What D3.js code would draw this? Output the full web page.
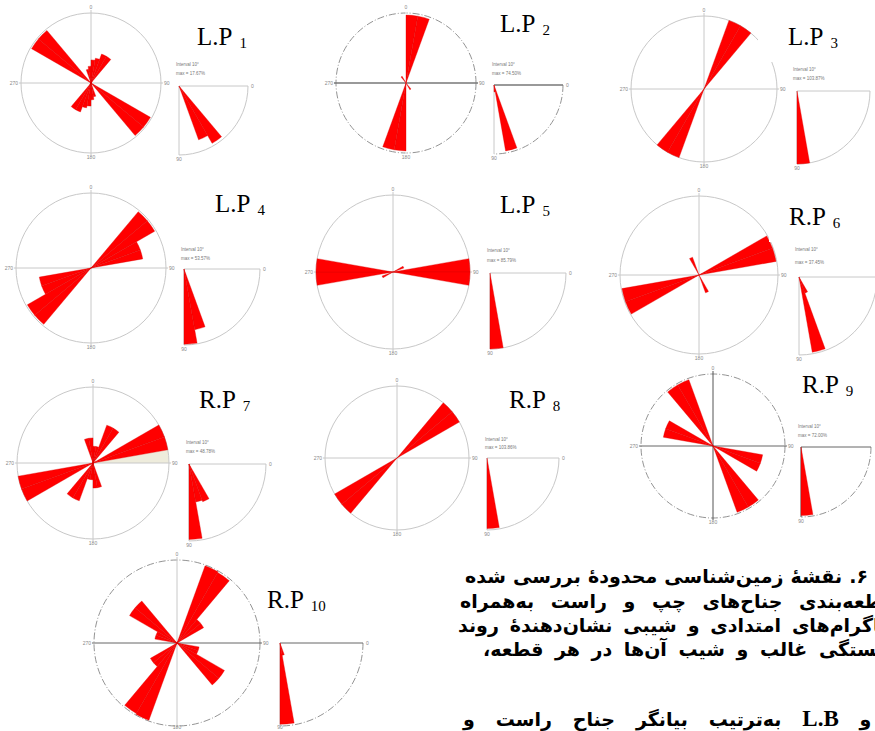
<!DOCTYPE html>
<html>
<head>
<meta charset="utf-8">
<script src="https://cdn.jsdelivr.net/npm/d3@7"></script>
<style>
  body { margin: 0; background: #fff; width: 875px; height: 731px; overflow: hidden; position: relative; }
  .fa { position: absolute; direction: rtl; font-family: "DejaVu Sans"; font-weight: bold; font-size: 19px;
        white-space: nowrap; text-align: justify; text-align-last: justify; color: #000; line-height: normal; }
  .fa .lat { font-family: "Liberation Serif"; font-weight: bold; font-size: 23px; }
</style>
</head>
<body>
<div id="chart"></div>
<script>
// Panel names and numbers
var panelPrefix = ["L.P", "L.P", "L.P", "L.P", "L.P", "R.P", "R.P", "R.P", "R.P", "R.P"];
var panelNumber = ["1", "2", "3", "4", "5", "6", "7", "8", "9", "10"];
var maxText = ["17.67%", "74.50%", "103.87%", "53.57%", "85.79%", "37.45%", "48.78%", "103.86%", "72.00%", ""];

// Strike bins: [start azimuth (deg), length as share of max]; each is drawn both ways (+180)
var lp1Strike = [[0, 0.33], [10, 0.36], [20, 0.44], [30, 0.44], [120, 0.98], [130, 0.98], [160, 0.2], [170, 0.24]];
var lp2Strike = [[0, 0.97], [10, 0.97], [140, 0.11]];
var lp3Strike = [[20, 1.0], [30, 1.0]];
var lp4Strike = [[40, 0.98], [50, 0.98], [60, 0.7], [70, 0.7]];
var lp5Strike = [[60, 0.15], [80, 1.0], [90, 1.0]];
var rp6Strike = [[60, 0.99], [70, 0.99], [150, 0.24]];
var rp7Strike = [[0, 0.22], [10, 0.22], [20, 0.53], [30, 0.53], [60, 1.0], [70, 1.0], [160, 0.33], [170, 0.33]];
var rp8Strike = [[40, 1.0], [50, 1.0]];
var rp9Strike = [[100, 0.7], [110, 0.7], [140, 0.98], [150, 0.98]];
var rp10Strike = [[20, 0.99], [30, 0.98], [40, 0.37], [50, 0.37], [100, 0.27], [110, 0.27], [120, 0.66], [130, 0.66]];
// one-sided shaded bin in R.P 7
var rp7Shade = [[80, 1.0]];

// Dip bins: [start dip (deg), length as share of max]
var lp1Dip = [[50, 0.96], [60, 0.83]];
var lp2Dip = [[70, 0.97], [80, 0.1]];
var lp3Dip = [[80, 1.0]];
var lp4Dip = [[70, 0.81], [80, 0.99]];
var lp5Dip = [[80, 1.0]];
var rp6Dip = [[60, 0.22], [70, 0.98]];
var rp7Dip = [[60, 0.52], [70, 0.5], [80, 0.98]];
var rp8Dip = [[80, 0.98]];
var rp9Dip = [[80, 0.98]];
var rp10Dip = [[70, 0.15], [80, 0.98]];

var strikeData = [lp1Strike, lp2Strike, lp3Strike, lp4Strike, lp5Strike, rp6Strike, rp7Strike, rp8Strike, rp9Strike, rp10Strike];
var dipData = [lp1Dip, lp2Dip, lp3Dip, lp4Dip, lp5Dip, rp6Dip, rp7Dip, rp8Dip, rp9Dip, rp10Dip];

var faLines = [
    "شکل ۶. نقشهٔ زمین‌شناسی محدودهٔ بررسی شده",
    "و قطعه‌بندی جناح‌های چپ و راست به‌همراه",
    "دیاگرام‌های امتدادی و شیبی نشان‌دهندهٔ روند",
    "شکستگی غالب و شیب آن‌ها در هر قطعه،",
    "R.B و L.B به‌ترتیب بیانگر جناح راست و"
];

// layout of each panel (rose centre/radius, dip origin/radius, label and note positions)
var layout = [
    { cx: 91, cy: 83, r: 70, ox: 179, oy: 86, dr: 69, lx: 197, ly: 45, tx: 176, ty: 66, tg: 9 },
    { cx: 406, cy: 83, r: 70, ox: 494, oy: 85, dr: 69, lx: 500, ly: 32, tx: 492, ty: 66, tg: 9, dashed: true, h: "#777", hw: 1.4, v: "#fff" },
    { cx: 704, cy: 89, r: 73, ox: 797, oy: 91, dr: 73, lx: 788, ly: 45, tx: 793, ty: 71, tg: 9, box: [758, 14, 80, 48] },
    { cx: 91, cy: 268, r: 75, ox: 184, oy: 269, dr: 76, lx: 215, ly: 212, tx: 181, ty: 251, tg: 9 },
    { cx: 393, cy: 272, r: 77, ox: 490, oy: 273, dr: 76, lx: 500, ly: 213, tx: 487, ty: 252, tg: 10 },
    { cx: 699, cy: 275, r: 79, ox: 799, oy: 277, dr: 78, lx: 789, ly: 225, tx: 795, ty: 251, tg: 13, box: [769, 192, 80, 50] },
    { cx: 93, cy: 463, r: 76, ox: 189, oy: 464, dr: 77, lx: 199, ly: 408, tx: 186, ty: 444, tg: 9 },
    { cx: 397, cy: 458, r: 72, ox: 487, oy: 458, dr: 72, lx: 509, ly: 408, tx: 485, ty: 441, tg: 8 },
    { cx: 713, cy: 446, r: 72, ox: 801, oy: 447, dr: 70, lx: 802, ly: 393, tx: 798, ty: 428, tg: 9, dashed: true, h: "#555", hw: 0.9, v: "#555" },
    { cx: 177, cy: 643, r: 83, ox: 280, oy: 643, dr: 83, lx: 267, ly: 608, tx: 0, ty: 0, tg: 0, dashed: true, h: "#555", hw: 0.9 }
];

var binSize = 10;
var red = "#ff0000";
var grey = "#c8c8c8";
var pageW = 875, pageH = 731;

var svg = d3.select("#chart")
    .append("svg")
    .attr("width", pageW)
    .attr("height", pageH)
    .style("position", "absolute")
    .style("left", 0)
    .style("top", 0);

// azimuth: 0 = up, clockwise; dip: 0 = right, 90 = down
var azimuth = d3.scaleLinear().domain([0, 360]).range([0, 2 * Math.PI]);
var dipAngle = d3.scaleLinear().domain([0, 90]).range([Math.PI / 2, Math.PI]);

function smallText(sel, x, y, anchor, txt) {
    sel.append("text")
        .attr("x", x).attr("y", y)
        .attr("text-anchor", anchor)
        .style("font-family", "Liberation Sans")
        .style("font-size", "5px")
        .style("fill", "#888")
        .text(txt);
}

layout.forEach(function(p, i) {
    var g = svg.append("g");
    var frameCol = p.dashed ? "#777" : grey;
    var dash = p.dashed ? "7,2,1,2" : null;

    // ---- rose diagram ----
    var rose = g.append("g").attr("transform", "translate(" + p.cx + "," + p.cy + ")");
    var rad = d3.scaleLinear().domain([0, 1]).range([0, p.r]);
    var petal = d3.arc()
        .innerRadius(0)
        .outerRadius(d => rad(d[1]))
        .startAngle(d => azimuth(d[0]))
        .endAngle(d => azimuth(d[0] + binSize));

    if (i === 6) {
        rose.selectAll("path.shade")
            .data(rp7Shade)
            .enter()
            .append("path")
            .attr("d", petal)
            .attr("fill", "#eeecdc");
    }

    rose.append("circle")
        .attr("r", p.r)
        .attr("fill", "none")
        .attr("stroke", frameCol)
        .attr("stroke-width", p.dashed ? 0.8 : 1)
        .attr("stroke-dasharray", dash);

    rose.append("line")
        .attr("x1", -p.r - 2).attr("x2", p.r + 2)
        .attr("stroke", p.h || grey)
        .attr("stroke-width", p.hw || 1);
    rose.append("line")
        .attr("y1", -p.r - 3).attr("y2", p.r + 2)
        .attr("stroke", p.v || grey)
        .attr("stroke-width", 1);

    var bins = strikeData[i].concat(strikeData[i].map(d => [d[0] + 180, d[1]]));
    rose.selectAll("path.petal")
        .data(bins)
        .enter()
        .append("path")
        .attr("class", "petal")
        .attr("d", petal)
        .attr("fill", red)
        .attr("stroke", "#d80000")
        .attr("stroke-width", 0.35);

    smallText(rose, 0, -p.r - 4, "middle", "0");
    smallText(rose, p.r + 3, 1.5, "start", "90");
    smallText(rose, 0, Math.min(p.r + 6, pageH - 2 - p.cy), "middle", "180");
    smallText(rose, -p.r - 3, 1.5, "end", "270");

    // ---- dip diagram ----
    var dip = g.append("g").attr("transform", "translate(" + p.ox + "," + p.oy + ")");
    var drad = d3.scaleLinear().domain([0, 1]).range([0, p.dr]);
    var quarter = d3.path();
    quarter.moveTo(p.dr, 0);
    quarter.arc(0, 0, p.dr, 0, Math.PI / 2);
    dip.append("path")
        .attr("d", quarter.toString())
        .attr("fill", "none")
        .attr("stroke", frameCol)
        .attr("stroke-width", p.dashed ? 0.8 : 1)
        .attr("stroke-dasharray", dash);
    dip.append("line")
        .attr("x2", p.dr)
        .attr("stroke", p.h || grey)
        .attr("stroke-width", p.hw || 1);
    dip.append("line")
        .attr("y2", p.dr)
        .attr("stroke", p.v && p.v !== "#fff" ? p.v : grey)
        .attr("stroke-width", 1);

    var dipPetal = d3.arc()
        .innerRadius(0)
        .outerRadius(d => drad(d[1]))
        .startAngle(d => dipAngle(d[0]))
        .endAngle(d => dipAngle(d[0] + binSize));
    dip.selectAll("path.dip")
        .data(dipData[i])
        .enter()
        .append("path")
        .attr("class", "dip")
        .attr("d", dipPetal)
        .attr("fill", red)
        .attr("stroke", "#d80000")
        .attr("stroke-width", 0.35);

    // the "0" end label falls outside the page for the right-hand column
    if (p.ox + p.dr + 8 < pageW) smallText(dip, p.dr + 3, 1.5, "start", "0");
    smallText(dip, 0, Math.min(p.dr + 6, pageH - 2 - p.oy), "middle", "90");

    if (maxText[i]) {
        g.append("text")
            .attr("x", p.tx).attr("y", p.ty)
            .style("font-family", "Liberation Sans").style("font-size", "4.5px").style("fill", "#777")
            .text("Interval 10°");
        g.append("text")
            .attr("x", p.tx).attr("y", p.ty + p.tg)
            .style("font-family", "Liberation Sans").style("font-size", "4.5px").style("fill", "#777")
            .text("max = " + maxText[i]);
    }

    // ---- label ----
    if (p.box) {
        g.append("rect")
            .attr("x", p.box[0]).attr("y", p.box[1])
            .attr("width", p.box[2]).attr("height", p.box[3])
            .attr("fill", "#fff");
    }
    var label = g.append("text")
        .attr("x", p.lx).attr("y", p.ly)
        .style("font-family", "Liberation Serif")
        .style("font-size", "25px")
        .style("fill", "#000")
        .text(panelPrefix[i]);
    label.append("tspan")
        .attr("dx", 7).attr("dy", 3)
        .style("font-size", "15px")
        .text(panelNumber[i]);
});

// Persian caption, clipped at the right edge of the page (as in the source figure)
var faBaseline = [583, 608, 632, 656, 724];
var faLeft = [465, 460, 458, 483, 463];
var faRight = [922, 924, 897, 906, 930];
d3.select("body").selectAll("div.fa")
    .data(faLines)
    .enter()
    .append("div")
    .attr("class", "fa")
    .style("left", (d, i) => faLeft[i] + "px")
    .style("width", (d, i) => (faRight[i] - faLeft[i]) + "px")
    .style("top", (d, i) => (faBaseline[i] - 18) + "px")
    .html(d => d.replace(/([A-Z]\.[A-Z])/g, '<span class="lat">$1</span>'));
</script>
</body>
</html>
